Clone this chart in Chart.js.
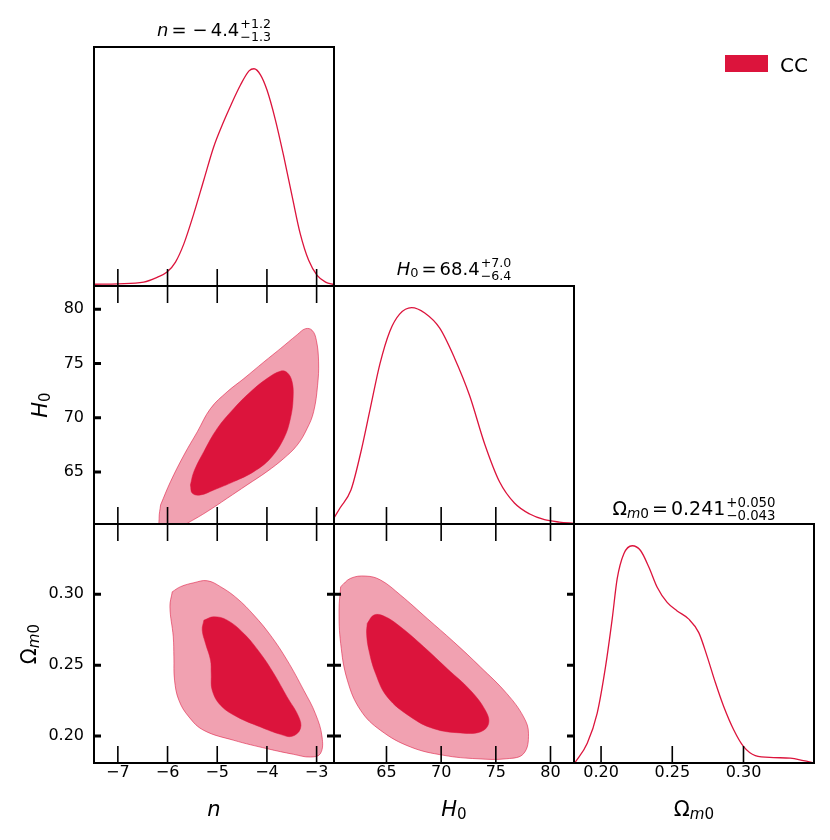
<!DOCTYPE html>
<html>
<head>
<meta charset="utf-8">
<script src="https://cdn.jsdelivr.net/npm/chart.js@4.4.0/dist/chart.umd.min.js"></script>
<style>
  html, body { margin: 0; padding: 0; background: #fff; }
  #wrap { position: relative; width: 830px; height: 840px; font-family: "DejaVu Sans", sans-serif; color: #000; }
  canvas { position: absolute; left: 0; top: 0; }
  .txt { position: absolute; white-space: nowrap; line-height: 1; }
  .ttl { font-size: 18px; transform: translateX(-50%); }
  .ax { font-size: 21px; transform: translateX(-50%); }
  .axy { font-size: 21px; transform: translate(-50%, -50%) rotate(-90deg); }
  .pm { display: inline-flex; flex-direction: column; font-size: 0.7em; line-height: 1; vertical-align: middle; margin-left: 1px; }
  .op { margin: 0 3px; }
  sub { font-size: 0.72em; vertical-align: -0.22em; line-height: 0; }
  .key { position: absolute; left: 725px; top: 55px; width: 43px; height: 17px; background: #dc143c; }
</style>
</head>
<body>
<div id="wrap">
  <canvas id="p1" width="830" height="840"></canvas>
  <canvas id="p2" width="830" height="840"></canvas>
  <canvas id="p3" width="830" height="840"></canvas>
  <canvas id="p4" width="830" height="840"></canvas>
  <canvas id="p5" width="830" height="840"></canvas>
  <canvas id="p6" width="830" height="840"></canvas>

  <div class="txt ttl" style="left:214px; top:18px;"><i>n</i><span class="op">=</span><span class="op">&minus;</span>4.4<span class="pm"><span>+1.2</span><span>&minus;1.3</span></span></div>
  <div class="txt ttl" style="left:454px; top:257px;"><i>H</i><sub>0</sub><span class="op">=</span>68.4<span class="pm"><span>+7.0</span><span>&minus;6.4</span></span></div>
  <div class="txt ttl" style="left:694px; top:496px; font-size:19px;">&Omega;<sub><i>m</i>0</sub><span class="op">=</span>0.241<span class="pm"><span>+0.050</span><span>&minus;0.043</span></span></div>

  <div class="txt ax" style="left:214px; top:799px;"><i>n</i></div>
  <div class="txt ax" style="left:454px; top:799px;"><i>H</i><sub>0</sub></div>
  <div class="txt ax" style="left:694px; top:799px;">&Omega;<sub><i>m</i>0</sub></div>
  <div class="txt axy" style="left:40px; top:405px;"><i>H</i><sub>0</sub></div>
  <div class="txt axy" style="left:29px; top:644px;">&Omega;<sub><i>m</i>0</sub></div>

  <div class="key"></div>
  <div class="txt" style="left:780px; top:55px; font-size:20px;">CC</div>
</div>
<script>
// axis ranges and tick labels
const nRange = [-7.48, -2.65];
const h0Range = [60.2, 82.15];
const omRange = [0.181, 0.3495];
const postRange = [0, 1.1];
const nTicks = [-7, -6, -5, -4, -3];
const h0Ticks = [65, 70, 75, 80];
const omTicks = [0.20, 0.25, 0.30];

// 1D marginal posteriors (normalised to peak 1)
const nVals = [-7.48, -7.0, -6.48, -6.21, -6.01, -5.84, -5.67, -5.47, -5.27, -5.07, -4.87, -4.73, -4.53, -4.36, -4.26, -4.13, -4.0, -3.83, -3.66, -3.49, -3.33, -3.16, -2.99, -2.82, -2.65];
const nPost = [0.008, 0.01, 0.018, 0.04, 0.064, 0.11, 0.195, 0.334, 0.488, 0.641, 0.757, 0.83, 0.926, 0.99, 1.0, 0.972, 0.903, 0.765, 0.595, 0.41, 0.241, 0.118, 0.049, 0.018, 0.006];
const h0Vals = [60.2, 60.75, 61.75, 62.6, 63.5, 64.4, 65.3, 66.2, 67.3, 68.5, 69.87, 71.2, 72.6, 73.98, 75.35, 76.7, 78.1, 79.45, 80.8, 82.15];
const h0Post = [0.028, 0.074, 0.157, 0.32, 0.53, 0.74, 0.89, 0.97, 1.0, 0.975, 0.905, 0.77, 0.594, 0.37, 0.194, 0.097, 0.046, 0.02, 0.009, 0.003];
const omVals = [0.1815, 0.1903, 0.1973, 0.2032, 0.2078, 0.2113, 0.216, 0.2219, 0.2277, 0.2336, 0.2394, 0.2464, 0.2534, 0.2616, 0.2686, 0.2744, 0.2803, 0.2861, 0.2931, 0.3001, 0.3083, 0.3211, 0.3329, 0.3421, 0.3495];
const omPost = [0.0, 0.091, 0.23, 0.446, 0.662, 0.847, 0.963, 1.0, 0.978, 0.901, 0.809, 0.739, 0.70, 0.662, 0.60, 0.492, 0.369, 0.26, 0.153, 0.075, 0.034, 0.025, 0.022, 0.011, 0.001];

// 2D credible contours (68% inner, 95% outer)
const nH0Outer = [[-6.14,61.96],[-5.94,64.11],[-5.67,66.56],[-5.40,68.71],[-5.135,70.85],[-4.80,72.39],[-4.465,73.61],[-4.06,75.15],[-3.73,76.37],[-3.39,77.66],[-3.225,78.21],[-3.09,78.06],[-3.005,77.14],[-2.96,75.15],[-2.98,73.0],[-3.06,70.55],[-3.19,69.01],[-3.39,67.48],[-3.66,66.25],[-4.0,65.03],[-4.40,63.80],[-4.80,62.57],[-5.20,61.35],[-5.54,60.43],[-5.80,59.81],[-6.14,59.81],[-6.17,60.73]];
const nH0Inner = [[-5.54,63.80],[-5.47,65.03],[-5.27,66.87],[-5.0,69.01],[-4.666,70.85],[-4.33,72.39],[-4.0,73.61],[-3.73,74.29],[-3.594,74.17],[-3.493,73.31],[-3.473,71.77],[-3.527,69.93],[-3.66,68.09],[-3.93,66.25],[-4.264,65.03],[-4.666,64.11],[-5.068,63.34],[-5.336,62.88],[-5.50,63.03]];
const nOmOuter = [[-5.905,0.3017],[-5.738,0.3053],[-5.47,0.3081],[-5.202,0.3095],[-4.934,0.3053],[-4.599,0.2970],[-4.264,0.2853],[-3.929,0.2711],[-3.594,0.2535],[-3.259,0.2323],[-3.024,0.2158],[-2.89,0.1993],[-2.924,0.1876],[-3.125,0.1852],[-3.46,0.1871],[-3.996,0.1911],[-4.666,0.1970],[-5.269,0.2040],[-5.57,0.2135],[-5.771,0.2252],[-5.859,0.2394],[-5.872,0.2558],[-5.885,0.2700],[-5.952,0.2911]];
const nOmInner = [[-5.269,0.2817],[-5.068,0.2841],[-4.80,0.2817],[-4.465,0.2723],[-4.13,0.2582],[-3.862,0.2441],[-3.594,0.2276],[-3.359,0.2135],[-3.326,0.2052],[-3.493,0.1998],[-3.728,0.2012],[-4.13,0.2064],[-4.599,0.2135],[-4.934,0.2217],[-5.101,0.2323],[-5.121,0.2441],[-5.135,0.2535],[-5.236,0.2653],[-5.302,0.2747]];
const h0OmOuter = [[60.81,0.3053],[61.72,0.3112],[63.09,0.3128],[64.46,0.3100],[66.28,0.2994],[68.72,0.2829],[71.15,0.2664],[73.58,0.2488],[76.01,0.2299],[77.54,0.2135],[77.99,0.2017],[77.54,0.1876],[76.01,0.1840],[73.28,0.1840],[70.24,0.1864],[67.2,0.1923],[64.46,0.2040],[62.63,0.2182],[61.42,0.2394],[60.81,0.2653],[60.66,0.2888]];
const h0OmInner = [[63.24,0.2794],[63.85,0.2853],[64.76,0.2846],[66.28,0.2770],[68.41,0.2629],[70.54,0.2476],[72.67,0.2323],[74.04,0.2182],[74.34,0.2088],[73.58,0.2029],[71.76,0.2022],[69.32,0.2052],[67.2,0.2135],[65.07,0.2276],[64.0,0.2441],[63.39,0.2605],[63.18,0.2723]];

const W = 830, H = 840;
const RED = '#dc143c';
const PALE = 'rgba(220,20,60,0.4)';
const fmtN = v => (v < 0 ? '\u2212' : '') + Math.abs(v);
const fmtH = v => String(v);
const fmtO = v => v.toFixed(2);

function curve(xs, ys) {
  return {
    data: xs.map((x, i) => ({ x, y: ys[i] })),
    borderColor: RED, borderWidth: 1.3, pointRadius: 0,
    cubicInterpolationMode: 'monotone', fill: false
  };
}

function region(pts, dark) {
  const closed = pts.concat([pts[0]]);
  return {
    data: closed.map(p => ({ x: p[0], y: p[1] })),
    backgroundColor: dark ? RED : PALE,
    borderColor: dark ? RED : 'rgba(220,20,60,0.55)',
    borderWidth: dark ? 0.5 : 1,
    pointRadius: 0, tension: 0.4, fill: 'shape'
  };
}

// size = room the labels get outside the panel (the axis box)
function axis(range, ticks, size, horiz, fmt) {
  return {
    type: 'linear', min: range[0], max: range[1], display: size > 0,
    grid: { display: false, drawTicks: false },
    border: { display: false },
    ticks: {
      font: { family: 'DejaVu Sans', size: 16 }, color: '#000',
      padding: horiz ? 0 : 10, maxRotation: 0, autoSkip: false,
      callback: v => fmt ? fmt(v) : v
    },
    afterBuildTicks: s => { if (ticks) s.ticks = ticks.map(v => ({ value: v })); },
    afterFit: s => { if (horiz) s.height = size; else s.width = size; }
  };
}

function frame(o) {
  return {
    id: 'frame',
    afterDatasetsDraw(chart) {
      const { ctx, chartArea: a, scales: { x, y } } = chart;
      ctx.save();
      ctx.strokeStyle = '#000';
      ctx.lineWidth = 1.6;
      ctx.beginPath();
      (o.xTicks || []).forEach(v => {
        const px = x.getPixelForValue(v);
        if (o.bottom) { ctx.moveTo(px, a.bottom); ctx.lineTo(px, a.bottom - 17); }
        if (o.top) { ctx.moveTo(px, a.top); ctx.lineTo(px, a.top + 17); }
      });
      ctx.stroke();
      ctx.lineWidth = 3;
      ctx.beginPath();
      (o.yTicks || []).forEach(v => {
        const py = y.getPixelForValue(v);
        if (o.left) { ctx.moveTo(a.left, py); ctx.lineTo(a.left + 7, py); }
        if (o.right) { ctx.moveTo(a.right, py); ctx.lineTo(a.right - 7, py); }
      });
      ctx.stroke();
      ctx.lineWidth = 2;
      ctx.strokeRect(a.left, a.top, a.right - a.left, a.bottom - a.top);
      ctx.restore();
    }
  };
}

function panel(id, box, xr, yr, datasets, o) {
  const [l, t, r, b] = box;
  const xSize = o.xLabels ? H - b : 0;
  const ySize = o.yLabels ? l : 0;
  return new Chart(document.getElementById(id), {
    type: 'line',
    data: { datasets },
    options: {
      responsive: false, animation: false, events: [],
      layout: { padding: { left: l - ySize, top: t, right: W - r, bottom: H - b - xSize } },
      plugins: { legend: { display: false }, tooltip: { enabled: false } },
      scales: {
        x: axis(xr, o.xTicks, xSize, true, o.xFmt),
        y: axis(yr, o.yTicks, ySize, false, o.yFmt)
      }
    },
    plugins: [frame(o)]
  });
}

panel('p1', [94, 47, 334, 286], nRange, postRange, [curve(nVals, nPost)],
  { xTicks: nTicks, bottom: true });
panel('p2', [94, 286, 334, 524], nRange, h0Range, [region(nH0Inner, true), region(nH0Outer, false)],
  { xTicks: nTicks, top: true, bottom: true, yTicks: h0Ticks, left: true, yLabels: true, yFmt: fmtH });
panel('p3', [334, 286, 574, 524], h0Range, postRange, [curve(h0Vals, h0Post)],
  { xTicks: h0Ticks, bottom: true });
panel('p4', [94, 524, 334, 763], nRange, omRange, [region(nOmInner, true), region(nOmOuter, false)],
  { xTicks: nTicks, top: true, bottom: true, xLabels: true, xFmt: fmtN, yTicks: omTicks, left: true, right: true, yLabels: true, yFmt: fmtO });
panel('p5', [334, 524, 574, 763], h0Range, omRange, [region(h0OmInner, true), region(h0OmOuter, false)],
  { xTicks: h0Ticks, top: true, bottom: true, xLabels: true, xFmt: fmtH, yTicks: omTicks, left: true, right: true });
panel('p6', [574, 524, 814, 763], omRange, postRange, [curve(omVals, omPost)],
  { xTicks: omTicks, bottom: true, xLabels: true, xFmt: fmtO });
</script>
</body>
</html>
